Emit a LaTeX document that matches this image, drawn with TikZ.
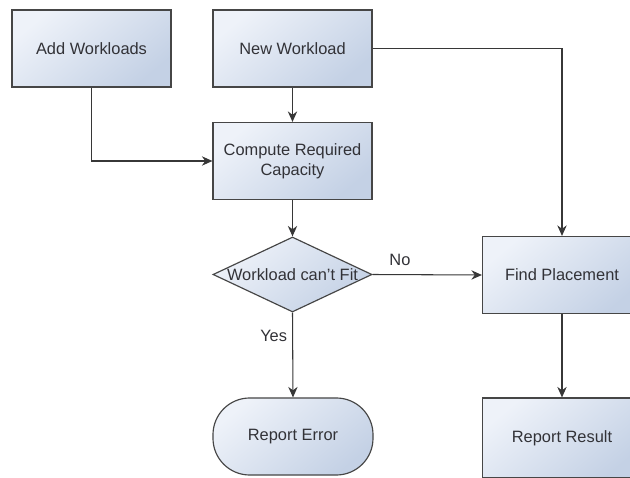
\documentclass[tikz,border=0pt]{standalone}
\usepackage{fontspec}
\setmainfont{Liberation Sans}
\usetikzlibrary{arrows.meta,shapes.geometric}

\definecolor{boxlight}{RGB}{238,242,249}
\definecolor{boxdark}{RGB}{196,209,229}
\definecolor{boxline}{RGB}{70,70,70}
\definecolor{flowline}{RGB}{55,55,55}
\definecolor{boxtext}{RGB}{50,50,55}

\tikzset{
  shadebox/.style={draw=boxline, line width=1pt, top color=boxlight, bottom color=boxdark,
    shading angle=40, text=boxtext, align=center, inner sep=0pt,
    font=\fontsize{14}{17}\selectfont},
  taskbox/.style={shadebox, rectangle, minimum width=4.77cm, minimum height=2.31cm},
  flow/.style={draw=flowline, line width=0.9pt, -{Stealth[length=9pt,width=8pt]}},
  flowtag/.style={text=boxtext, font=\fontsize{14}{17}\selectfont}
}

\begin{document}
\begin{tikzpicture}[x=0.03cm,y=-0.03cm]
	\useasboundingbox (0,0) rectangle (630,478);
	\clip (0,0) rectangle (630,478);
	\fill[white] (0,0) rectangle (630,478);
	% boxes
	\node[taskbox] (add) at (91.5,48.5) {Add Workloads};
	\node[taskbox] (new) at (292.5,48.5) {New Workload};
	\node[taskbox] (compute) at (292.5,161) {Compute Required\\Capacity};
	\node[shadebox, diamond, minimum width=4.77cm, minimum height=2.25cm, aspect=2,
	  label={[flowtag]center:Workload can't Fit}] (fit) at (292.5,274.5) {};
	\node[taskbox] (place) at (562,275) {Find Placement};
	\node[shadebox, rectangle, rounded corners=1.1cm, minimum width=4.8cm, minimum height=2.31cm] (error) at (293,436.5) {Report Error};
	\node[taskbox, minimum height=2.4cm] (result) at (562,438) {Report Result};
	% connectors
	\draw[flow] (add.south) |- (compute.west);
	\draw[flow] (new) -- (compute);
	\draw[flow] (compute) -- (fit);
	\draw[flow] (new.east) -| (place.north);
	\draw[flow] (fit.east) -- node[flowtag, above=4pt, pos=0.25] {No} (place.west);
	\draw[flow] (fit.south) -- node[flowtag, left=1pt, pos=0.28] {Yes} (error.north);
	\draw[flow] (place) -- (result);
\end{tikzpicture}
\end{document}
